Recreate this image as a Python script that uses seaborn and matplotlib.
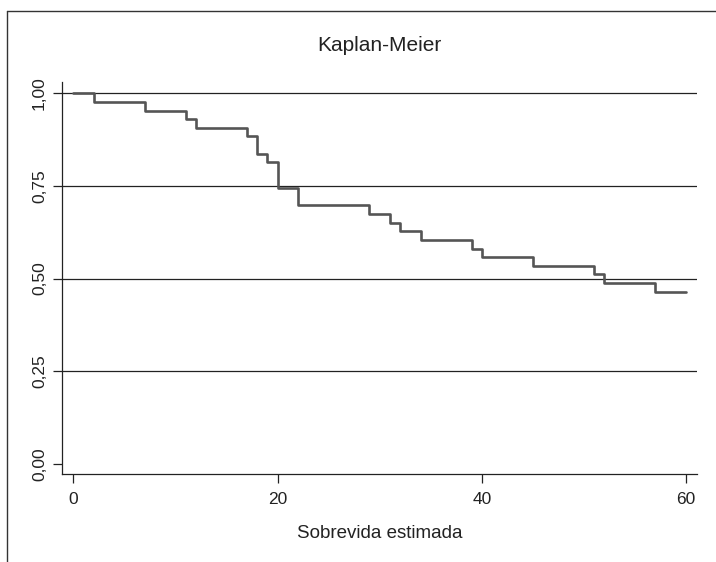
import matplotlib
matplotlib.use("Agg")
import matplotlib.pyplot as plt
from matplotlib.lines import Line2D
import seaborn as sns
import pandas as pd

# Kaplan-Meier estimate (time, survival)
times = [0, 2, 7, 11, 12, 17, 18, 19, 20, 22, 29, 31, 32, 34, 39, 40, 45, 51, 52, 57, 60]
survival = [1.000, 0.977, 0.953, 0.930, 0.907, 0.884, 0.837, 0.814, 0.744, 0.698,
            0.674, 0.651, 0.628, 0.605, 0.581, 0.558, 0.535, 0.512, 0.488, 0.465, 0.465]

x_ticks = [0, 20, 40, 60]
y_ticks = [0.0, 0.25, 0.50, 0.75, 1.00]
y_labels = ["0,00", "0,25", "0,50", "0,75", "1,00"]
grid_levels = [0.25, 0.50, 0.75, 1.00]

df = pd.DataFrame({"tempo": times, "sobrevida": survival})

sns.set_style("ticks")
plt.rcParams['font.family'] = ['Liberation Sans', 'DejaVu Sans']

fig = plt.figure(figsize=(7.16, 5.62), dpi=100)
ax = fig.add_axes([62.3 / 716, 1 - 474.3 / 562, 635 / 716, 392.6 / 562])

# horizontal grid lines (none at zero, like Stata)
for g in grid_levels:
    ax.axhline(g, color="#222222", lw=0.9, zorder=1)

sns.lineplot(data=df, x="tempo", y="sobrevida", drawstyle="steps-post",
             estimator=None, color="#555555", lw=1.9, ax=ax, zorder=3)

ax.set_xlim(-1.08, 61.1)
ax.set_ylim(-0.028, 1.031)

ax.set_xticks(x_ticks)
ax.set_xticklabels([str(t) for t in x_ticks], fontsize=12.5)
ax.set_yticks(y_ticks)
ax.set_yticklabels(y_labels, fontsize=12.5, rotation=90, va="center")
ax.tick_params(direction="out", length=6.5, width=0.9, color="#222222", labelcolor="#222222")
ax.tick_params(axis="x", pad=6.5)
ax.tick_params(axis="y", pad=4.5)

sns.despine(ax=ax)
for side in ["left", "bottom"]:
    ax.spines[side].set_color("#222222")
    ax.spines[side].set_linewidth(0.9)

ax.set_xlabel("Sobrevida estimada", fontsize=13.5, color="#222222", labelpad=13)
ax.set_ylabel("")
fig.text(379.5 / 716, 1 - 51 / 562, "Kaplan-Meier", ha="center", va="baseline",
         fontsize=15, color="#222222")

# outer frame of the original graph window
fy = 1 - 10.7 / 562
fx = 7.3 / 716
fig.add_artist(Line2D([fx, fx], [0, fy], color="#333333", lw=1.0))
fig.add_artist(Line2D([fx, 1], [fy, fy], color="#333333", lw=1.0))

fig.savefig("out.png", dpi=100)
